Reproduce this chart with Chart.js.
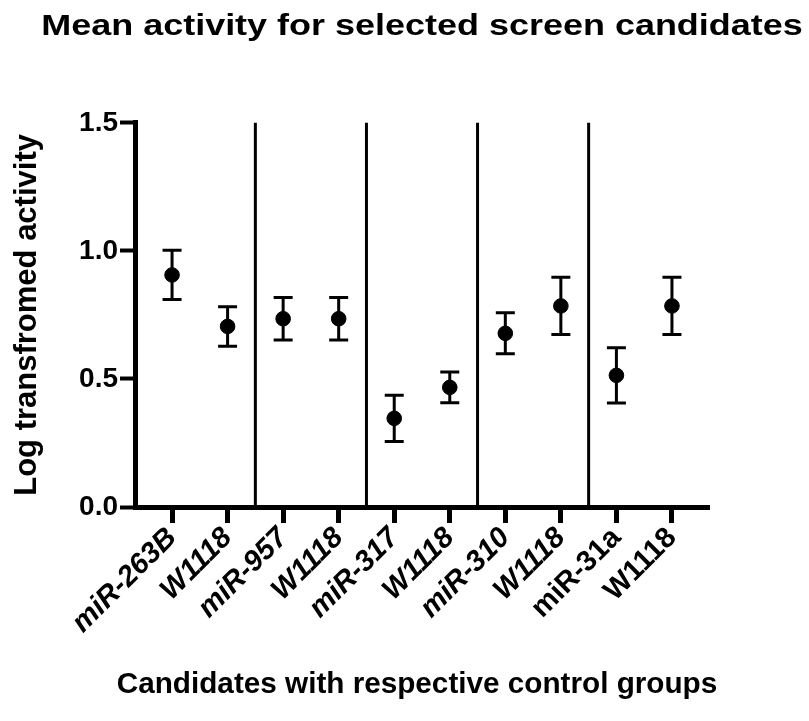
<!DOCTYPE html>
<html>
<head>
<meta charset="utf-8">
<script src="https://cdn.jsdelivr.net/npm/chart.js@4.4.1/dist/chart.umd.min.js"></script>
<style>
  html, body { margin: 0; padding: 0; background: #fff; }
</style>
</head>
<body>
<canvas id="myChart" width="809" height="721"></canvas>
<script>
//-- each candidate is followed by its own W1118 control
var labels = ['miR-263B', 'W1118', 'miR-957', 'W1118', 'miR-317', 'W1118', 'miR-310', 'W1118', 'miR-31a', 'W1118'];
var meanVals = [0.906, 0.705, 0.735, 0.735, 0.346, 0.467, 0.678, 0.785, 0.514, 0.785];
var semVals = [0.096, 0.077, 0.083, 0.083, 0.090, 0.060, 0.080, 0.112, 0.108, 0.112];
var yTicks = [0, 0.5, 1.0, 1.5];
var separators = [1.5, 3.5, 5.5, 7.5];   //-- lines between the groups

var arial = "'Liberation Sans', Arial, Helvetica, sans-serif";

//-------------------- separators + error bars -------------------->
var groupLines = {
    id: 'groupLines',
    beforeDatasetsDraw: function (chart) {
        var ctx = chart.ctx;
        var xs = chart.scales.x, ys = chart.scales.y;
        ctx.save();
        ctx.strokeStyle = '#000';
        ctx.lineWidth = 3;
        separators.forEach(function (s) {
            var px = xs.getPixelForValue(s);
            ctx.beginPath();
            ctx.moveTo(px, ys.getPixelForValue(1.5));
            ctx.lineTo(px, ys.getPixelForValue(0));
            ctx.stroke();
        });
        meanVals.forEach(function (m, i) {
            var px = xs.getPixelForValue(i);
            var top = ys.getPixelForValue(m + semVals[i]);
            var bot = ys.getPixelForValue(m - semVals[i]);
            ctx.beginPath();
            ctx.moveTo(px, top); ctx.lineTo(px, bot);
            ctx.moveTo(px - 9.5, top); ctx.lineTo(px + 9.5, top);
            ctx.moveTo(px - 9.5, bot); ctx.lineTo(px + 9.5, bot);
            ctx.stroke();
        });
        ctx.restore();
    }
};

//-------------------- titles: no squeezing to the plot width, big title drawn wider -------------------->
var wideTitles = {
    id: 'wideTitles',
    beforeDraw: function (chart) {
        var block = chart.titleBlock;
        if (block && !block._wide) {
            var orig = block.draw;
            block.draw = function () {
                var c = chart.ctx;
                var l = this.left, r = this.right;
                var cx = (l + r) / 2;
                this.left = l - 200; this.right = r + 200;
                c.save();
                c.translate(cx, 0);
                c.scale(1.24, 1);
                c.translate(-cx, 0);
                orig.apply(this, arguments);
                c.restore();
                this.left = l; this.right = r;
            };
            block._wide = true;
        }
        var xs = chart.scales.x;
        if (xs && !xs._wide) {
            var od = xs.drawTitle;
            xs.drawTitle = function () {
                var l = this.left, r = this.right;
                this.left = l - 65; this.right = r + 55;
                od.apply(this, arguments);
                this.left = l; this.right = r;
            };
            xs._wide = true;
        }
    }
};

var points = meanVals.map(function (v, i) { return { x: i, y: v }; });

var ctx = document.getElementById('myChart');
var myChart = new Chart(ctx, {
    type: 'scatter',
    data: {
        datasets: [{
            label: 'Mean',
            data: points,
            backgroundColor: '#000',
            borderColor: '#000',
            pointRadius: 7.3,
            pointHoverRadius: 7.3
        }]
    },
    options: {
        responsive: false,
        animation: false,
        layout: { padding: { left: 0, right: 100, top: 0, bottom: 0 } },
        plugins: {
            legend: { display: false },
            tooltip: { enabled: false },
            title: {
                display: true,
                text: 'Mean activity for selected screen candidates',
                color: '#000',
                fullSize: false,
                font: { family: arial, size: 29, weight: 'bold' },
                padding: { top: 10, bottom: 78 }
            }
        },
        scales: {
            x: {
                type: 'linear',
                min: -0.667,
                max: 9.667,
                afterBuildTicks: function (scale) {
                    scale.ticks = labels.map(function (l, i) { return { value: i }; });
                },
                afterFit: function (scale) { scale.height = 214; },
                grid: { drawOnChartArea: false, color: '#000', tickLength: 16, tickWidth: 5 },
                border: { color: '#000', width: 5 },
                ticks: {
                    color: '#000',
                    minRotation: 45,
                    maxRotation: 45,
                    padding: -2,
                    font: function (c) {
                        return { family: arial, size: 29, weight: 'bold', style: c.index < 8 ? 'italic' : 'normal' };
                    },
                    callback: function (value) { return labels[value]; }
                },
                title: {
                    display: true,
                    text: 'Candidates with respective control groups',
                    color: '#000',
                    font: { family: arial, size: 29.7, weight: 'bold' },
                    padding: { top: 0, bottom: 18 }
                }
            },
            y: {
                min: 0,
                max: 1.5,
                afterBuildTicks: function (scale) {
                    scale.ticks = yTicks.map(function (v) { return { value: v }; });
                },
                afterFit: function (scale) { scale.width = 135; },
                grid: { drawOnChartArea: false, color: '#000', tickLength: 15, tickWidth: 4 },
                border: { color: '#000', width: 5 },
                ticks: {
                    color: '#000',
                    padding: 2,
                    font: { family: arial, size: 28, weight: 'bold' },
                    callback: function (value) { return value.toFixed(1); }
                },
                title: {
                    display: true,
                    text: 'Log transfromed activity',
                    color: '#000',
                    font: { family: arial, size: 31, weight: 'bold' },
                    padding: { top: 9, bottom: 0 }
                }
            }
        }
    },
    plugins: [groupLines, wideTitles]
});
</script>
</body>
</html>
